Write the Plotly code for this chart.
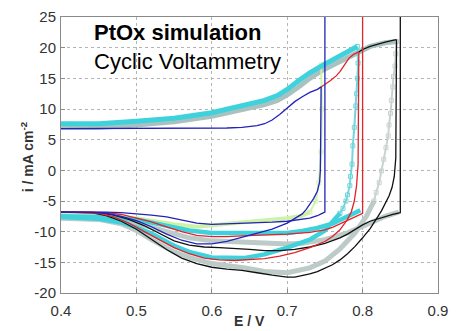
import plotly.graph_objects as go

# ---------------- data ----------------
# simulated forward (anodic) scan, drawn per vertex colour
E_fwd_blue = [0.40, 0.50, 0.60, 0.62, 0.64, 0.66, 0.67, 0.68, 0.69, 0.70, 0.71, 0.72, 0.73, 0.74, 0.745]
i_fwd_blue = [6.8, 6.8, 6.8, 6.9, 7.0, 7.3, 7.6, 8.2, 9.1, 10.2, 11.2, 12.0, 12.7, 13.2, 13.6]
E_fwd_red = [0.745, 0.75, 0.757, 0.765, 0.77, 0.776, 0.782, 0.788, 0.795]
i_fwd_red = [13.6, 14.0, 14.6, 15.4, 16.1, 17.2, 18.3, 18.9, 19.3]
E_fwd_black = [0.795, 0.80, 0.81, 0.82, 0.83, 0.84, 0.845]
i_fwd_black = [19.3, 19.7, 20.2, 20.6, 20.9, 21.2, 21.3]

# simulated vertex spike + first cathodic branch
E_blue_A = [0.75, 0.75, 0.745, 0.74, 0.73, 0.72, 0.70, 0.68, 0.66, 0.64, 0.62, 0.60, 0.58, 0.56, 0.54, 0.52, 0.50, 0.48, 0.46, 0.44, 0.40]
i_blue_A = [30, -6.8, -7.1, -7.4, -7.8, -8.0, -8.3, -8.45, -8.55, -8.65, -8.75, -8.8, -8.6, -8.1, -7.6, -7.3, -7.05, -6.9, -6.8, -6.8, -6.8]
E_red_A = [0.80, 0.80, 0.79, 0.78, 0.77, 0.76, 0.75, 0.73, 0.70, 0.67, 0.64, 0.62, 0.60, 0.58, 0.56, 0.54, 0.52, 0.50, 0.48, 0.46, 0.44, 0.40]
i_red_A = [30, -7.0, -7.6, -8.2, -8.8, -9.3, -9.7, -10.1, -10.4, -10.6, -10.7, -10.8, -10.8, -10.6, -10.0, -9.2, -8.4, -7.8, -7.2, -6.9, -6.8, -6.8]
E_black_A = [0.85, 0.85, 0.84, 0.83, 0.82, 0.81, 0.80, 0.79, 0.78, 0.77, 0.76, 0.75, 0.73, 0.71, 0.69, 0.67, 0.65, 0.63, 0.61, 0.59, 0.57, 0.55, 0.53, 0.51, 0.49, 0.47, 0.45, 0.40]
i_black_A = [30, -6.9, -7.2, -7.6, -8.0, -8.3, -8.9, -9.7, -10.4, -11.0, -11.5, -11.9, -12.5, -12.9, -13.1, -13.1, -12.9, -12.7, -12.6, -12.5, -12.2, -11.5, -10.3, -9.0, -8.0, -7.3, -6.9, -6.8]

# simulated smooth reverse (second cathodic branch)
E_blue_B = [0.745, 0.7448, 0.7445, 0.744, 0.743, 0.740, 0.735, 0.73, 0.725, 0.72, 0.71, 0.70, 0.68, 0.66, 0.64, 0.62, 0.60, 0.58, 0.56, 0.54, 0.52, 0.50, 0.48, 0.46, 0.44, 0.40]
i_blue_B = [13.6, 8.0, 3.0, 0.0, -1.9, -3.4, -4.6, -5.6, -6.4, -7.1, -7.9, -8.6, -9.6, -10.3, -10.9, -11.6, -12.0, -12.0, -11.4, -10.4, -9.2, -8.2, -7.5, -7.0, -6.85, -6.8]
E_red_B = [0.795, 0.7948, 0.7945, 0.794, 0.792, 0.789, 0.785, 0.78, 0.77, 0.76, 0.75, 0.73, 0.71, 0.69, 0.67, 0.65, 0.63, 0.61, 0.59, 0.57, 0.55, 0.53, 0.51, 0.49, 0.47, 0.45, 0.40]
i_red_B = [19.3, 12.0, 5.0, 1.0, -2.5, -5.0, -6.8, -8.0, -9.7, -10.8, -11.6, -12.6, -13.4, -14.0, -14.4, -14.6, -14.7, -14.6, -14.3, -13.6, -12.6, -11.3, -9.9, -8.6, -7.6, -7.0, -6.8]
E_black_B = [0.845, 0.8448, 0.8445, 0.844, 0.842, 0.839, 0.835, 0.83, 0.825, 0.82, 0.815, 0.81, 0.80, 0.79, 0.78, 0.77, 0.76, 0.75, 0.74, 0.73, 0.72, 0.71, 0.70, 0.69, 0.68, 0.66, 0.64, 0.62, 0.60, 0.58, 0.56, 0.54, 0.52, 0.50, 0.48, 0.46, 0.44, 0.40]
i_black_B = [21.3, 14.0, 7.0, 2.0, -1.0, -2.8, -4.2, -5.5, -6.6, -7.6, -8.6, -9.5, -11.0, -12.4, -13.6, -14.6, -15.4, -16.0, -16.5, -16.9, -17.2, -17.4, -17.4, -17.3, -17.1, -16.7, -16.3, -16.1, -15.8, -15.2, -14.3, -12.9, -11.2, -9.6, -8.3, -7.4, -6.9, -6.8]

# experimental data: forward scans
E_exp_fwd_cyan = [0.40, 0.45, 0.50, 0.55, 0.60, 0.62, 0.644, 0.67, 0.687, 0.70, 0.715, 0.73, 0.748, 0.773, 0.793]
i_exp_fwd_cyan = [7.6, 7.6, 8.0, 8.5, 9.4, 10.0, 10.6, 11.4, 12.2, 13.2, 14.6, 15.9, 17.2, 18.8, 20.2]
E_exp_fwd_grey = [0.40, 0.45, 0.50, 0.55, 0.60, 0.62, 0.644, 0.67, 0.687, 0.70, 0.715, 0.73, 0.748, 0.773, 0.793, 0.81, 0.83, 0.845]
i_exp_fwd_grey = [7.0, 7.0, 7.4, 7.9, 8.8, 9.3, 9.9, 10.7, 11.4, 12.3, 13.6, 15.0, 16.4, 18.0, 19.3, 20.2, 20.8, 21.0]

# experimental data: current drop after each vertex (square markers)
E_exp_green_drop = [0.745, 0.746, 0.745, 0.742, 0.738, 0.73]
i_exp_green_drop = [17.2, 10.0, 3.0, -2.0, -5.0, -6.8]
E_exp_cyan_drop = [0.793, 0.794, 0.793, 0.792, 0.791, 0.789, 0.787, 0.786, 0.784, 0.783, 0.780, 0.778, 0.774, 0.77]
i_exp_cyan_drop = [20.2, 17.5, 15.0, 12.5, 10.5, 7.0, 4.0, 1.0, -1.0, -2.5, -4.0, -5.0, -6.2, -7.0]
E_exp_grey_drop = [0.845, 0.844, 0.843, 0.841, 0.84, 0.838, 0.837, 0.835, 0.834, 0.831, 0.828, 0.825, 0.822, 0.818, 0.815]
i_exp_grey_drop = [21.0, 19.0, 17.0, 15.3, 13.6, 11.4, 9.3, 7.4, 5.6, 3.7, 1.8, -0.1, -2.0, -3.6, -5.0]

# experimental data: cathodic bands
E_exp_green = [0.73, 0.72, 0.70, 0.67, 0.644, 0.62, 0.60, 0.58, 0.55, 0.52, 0.50, 0.45, 0.40]
i_exp_green = [-6.8, -7.4, -7.8, -8.1, -8.3, -8.7, -9.0, -9.2, -8.8, -8.2, -7.8, -7.4, -7.3]
E_exp_cyan_up = [0.797, 0.78, 0.76, 0.74, 0.72, 0.70, 0.65, 0.60, 0.57, 0.55, 0.52, 0.50, 0.45, 0.40]
i_exp_cyan_up = [-6.5, -7.5, -8.7, -9.4, -9.9, -10.2, -10.2, -10.2, -9.8, -9.3, -8.5, -8.0, -7.6, -7.5]
E_exp_cyan_lo = [0.77, 0.76, 0.75, 0.73, 0.70, 0.67, 0.644, 0.60, 0.57, 0.55, 0.52, 0.50, 0.48, 0.45, 0.40]
i_exp_cyan_lo = [-7.0, -8.5, -9.8, -11.3, -12.6, -13.7, -14.3, -14.2, -13.3, -12.3, -10.3, -9.3, -8.5, -7.9, -7.6]
E_exp_grey_up = [0.848, 0.83, 0.81, 0.78, 0.75, 0.72, 0.70, 0.65, 0.60, 0.57, 0.55, 0.52, 0.50, 0.45, 0.40]
i_exp_grey_up = [-6.8, -7.5, -8.6, -10.2, -11.3, -11.9, -12.0, -11.8, -11.5, -11.0, -10.4, -9.3, -8.6, -7.8, -7.5]
E_exp_grey_lo = [0.815, 0.805, 0.79, 0.77, 0.75, 0.73, 0.70, 0.67, 0.644, 0.60, 0.57, 0.55, 0.52, 0.50, 0.48, 0.45, 0.40]
i_exp_grey_lo = [-5.0, -7.5, -10.2, -12.8, -14.8, -15.9, -16.7, -16.5, -15.9, -15.2, -14.2, -13.3, -11.3, -9.8, -8.7, -8.0, -7.8]

x_ticks = [0.4, 0.5, 0.6, 0.7, 0.8, 0.9]
x_tick_labels = ["0.4", "0.5", "0.6", "0.7", "0.8", "0.9"]
y_ticks = [-20, -15, -10, -5, 0, 5, 10, 15, 20, 25]
y_tick_labels = ["-20", "-15", "-10", "-5", "0", "5", "10", "15", "20", "25"]

# ---------------- styles ----------------
BLUE = "#2323b8"
RED = "#e3232a"
BLACK = "#111111"
CYAN = "#3fd2dc"
GREY = "#bccac8"
GREEN = "#cdf2a8"
FONT = "Liberation Sans, Arial, sans-serif"

fig = go.Figure()


def add(x, y, color, width, opacity=1.0):
    fig.add_trace(go.Scatter(x=x, y=y, mode="lines",
                             line=dict(color=color, width=width),
                             opacity=opacity, hoverinfo="skip",
                             showlegend=False))


def add_markers(x, y, color, opacity=1.0):
    fig.add_trace(go.Scatter(x=x, y=y, mode="lines+markers",
                             line=dict(color=color, width=2),
                             marker=dict(symbol="square-open", size=4,
                                         color=color, line=dict(width=1, color=color)),
                             opacity=opacity, hoverinfo="skip",
                             showlegend=False))


# experimental data (underneath)
add(E_exp_grey_lo, i_exp_grey_lo, GREY, 5)
add(E_exp_grey_up, i_exp_grey_up, GREY, 5)
add_markers(E_exp_grey_drop, i_exp_grey_drop, GREY, 0.8)
add(E_exp_fwd_grey, i_exp_fwd_grey, "#a9c2c0", 5)
add(E_exp_green, i_exp_green, GREEN, 4)
add_markers(E_exp_green_drop, i_exp_green_drop, GREEN, 0.9)
add(E_exp_cyan_lo, i_exp_cyan_lo, CYAN, 4.5)
add(E_exp_cyan_up, i_exp_cyan_up, CYAN, 4.5)
add_markers(E_exp_cyan_drop, i_exp_cyan_drop, "#5ccfd6", 0.85)
add(E_exp_fwd_cyan, i_exp_fwd_cyan, CYAN, 5)

# simulated curves
add(E_black_B, i_black_B, BLACK, 1.3)
add(E_black_A, i_black_A, BLACK, 1.3)
add(E_fwd_black, i_fwd_black, BLACK, 1.3)
add(E_red_B, i_red_B, RED, 1.3)
add(E_red_A, i_red_A, RED, 1.3)
add(E_fwd_red, i_fwd_red, RED, 1.3)
add(E_blue_B, i_blue_B, BLUE, 1.3)
add(E_blue_A, i_blue_A, BLUE, 1.3)
add(E_fwd_blue, i_fwd_blue, BLUE, 1.3)

axis_common = dict(
    showline=True, mirror=True, linecolor="#8a8a8a", linewidth=1,
    ticks="inside", ticklen=4, tickcolor="#8a8a8a",
    showgrid=True, griddash="dot", gridcolor="#b4b4b4", gridwidth=1,
    zeroline=False, ticklabeloverflow="allow",
    tickfont=dict(family=FONT, size=15, color="#333333"),
)

fig.update_layout(
    width=456, height=331,
    margin=dict(l=61, r=8, t=12, b=38),
    paper_bgcolor="white", plot_bgcolor="white",
    xaxis=dict(range=[0.4, 0.9], tickvals=x_ticks, ticktext=x_tick_labels,
               ticklabelstandoff=4, **axis_common),
    yaxis=dict(range=[-20, 25], tickvals=y_ticks, ticktext=y_tick_labels,
               ticklabelstandoff=1, **axis_common),
    annotations=[
        dict(text="<b>PtOx simulation</b>", xref="paper", yref="paper",
             x=(93 - 61) / 387, y=(293 - 27.3) / 281, xanchor="left", yanchor="middle",
             showarrow=False, font=dict(family=FONT, size=22, color="black")),
        dict(text="Cyclic Voltammetry", xref="paper", yref="paper",
             x=(93 - 61) / 387, y=(293 - 57.3) / 281, xanchor="left", yanchor="middle",
             showarrow=False, font=dict(family=FONT, size=22, color="black")),
        dict(text="<b>E / V</b>", xref="paper", yref="paper",
             x=(255 - 61) / 387, y=(293 - 321) / 281, xanchor="center", yanchor="middle",
             showarrow=False, font=dict(family=FONT, size=14, color="#333333")),
        dict(text="<b>i / mA cm<sup>-2</sup></b>", xref="paper", yref="paper",
             x=(27 - 61) / 387, y=(293 - 154) / 281, xanchor="center", yanchor="middle",
             textangle=-90, showarrow=False,
             font=dict(family=FONT, size=14, color="#333333")),
    ],
)

fig.write_html("out.html")
